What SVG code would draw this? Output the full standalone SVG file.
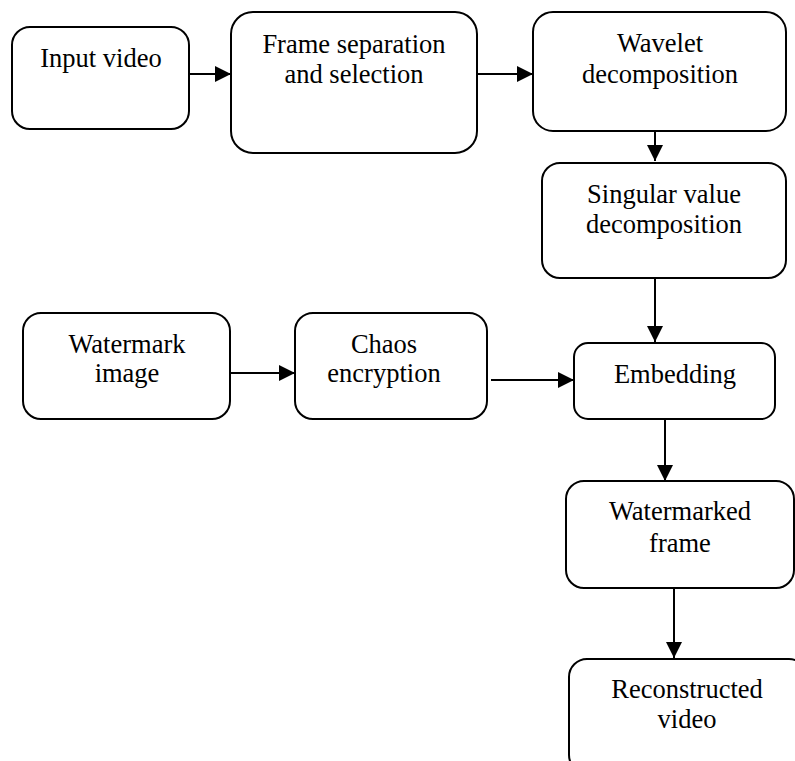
<svg xmlns="http://www.w3.org/2000/svg" width="795" height="761" viewBox="0 0 795 761">
  <style>
    .box { fill: #ffffff; stroke: #000000; stroke-width: 2; }
    .lbl { font-family: "Liberation Serif", "Times New Roman", serif; font-size: 26.5px; fill: #000000; text-anchor: middle; }
    .conn { stroke: #000000; stroke-width: 2; fill: none; marker-end: url(#head); }
  </style>
  <defs>
    <marker id="head" viewBox="0 0 16 16" refX="16" refY="8" markerWidth="16" markerHeight="16" markerUnits="userSpaceOnUse" orient="auto">
      <path d="M0,0 L16,8 L0,16 Z" fill="#000000"/>
    </marker>
  </defs>
  <rect width="795" height="761" fill="#ffffff"/>

  <!-- processing steps -->
  <g id="input-video">
    <rect class="box" x="12" y="27" width="177" height="102" rx="18"/>
    <text class="lbl" x="101" y="67">Input video</text>
  </g>
  <g id="frame-selection">
    <rect class="box" x="231" y="12" width="246" height="141" rx="22"/>
    <text class="lbl" x="354" y="53">Frame separation</text>
    <text class="lbl" x="354" y="83">and selection</text>
  </g>
  <g id="wavelet">
    <rect class="box" x="533" y="12" width="253" height="119" rx="20"/>
    <text class="lbl" x="660" y="52">Wavelet</text>
    <text class="lbl" x="660" y="83">decomposition</text>
  </g>
  <g id="svd">
    <rect class="box" x="542" y="163" width="244" height="115" rx="18"/>
    <text class="lbl" x="664" y="203">Singular value</text>
    <text class="lbl" x="664" y="233">decomposition</text>
  </g>
  <g id="watermark-image">
    <rect class="box" x="23" y="313" width="207" height="106" rx="18"/>
    <text class="lbl" x="127" y="353">Watermark</text>
    <text class="lbl" x="127" y="382">image</text>
  </g>
  <g id="chaos">
    <rect class="box" x="295" y="313" width="192" height="106" rx="18"/>
    <text class="lbl" x="384" y="353">Chaos</text>
    <text class="lbl" x="384" y="382">encryption</text>
  </g>
  <g id="embedding">
    <rect class="box" x="574" y="343" width="201" height="76" rx="14"/>
    <text class="lbl" x="675" y="383">Embedding</text>
  </g>
  <g id="watermarked-frame">
    <rect class="box" x="566" y="481" width="228" height="107" rx="18"/>
    <text class="lbl" x="680" y="520">Watermarked</text>
    <text class="lbl" x="680" y="552">frame</text>
  </g>
  <g id="reconstructed-video">
    <rect class="box" x="569" y="659" width="238" height="114" rx="18"/>
    <text class="lbl" x="687" y="698">Reconstructed</text>
    <text class="lbl" x="687" y="728">video</text>
  </g>

  <!-- connectors -->
  <g id="connectors">
    <line class="conn" x1="189" y1="74" x2="231" y2="74"/>
    <line class="conn" x1="477" y1="74" x2="533" y2="74"/>
    <line class="conn" x1="655" y1="131" x2="655" y2="161"/>
    <line class="conn" x1="655" y1="278" x2="655" y2="342"/>
    <line class="conn" x1="230" y1="373" x2="295" y2="373"/>
    <line class="conn" x1="491" y1="380" x2="574" y2="380"/>
    <line class="conn" x1="665" y1="419" x2="665" y2="481"/>
    <line class="conn" x1="674" y1="588" x2="674" y2="658"/>
  </g>
</svg>
